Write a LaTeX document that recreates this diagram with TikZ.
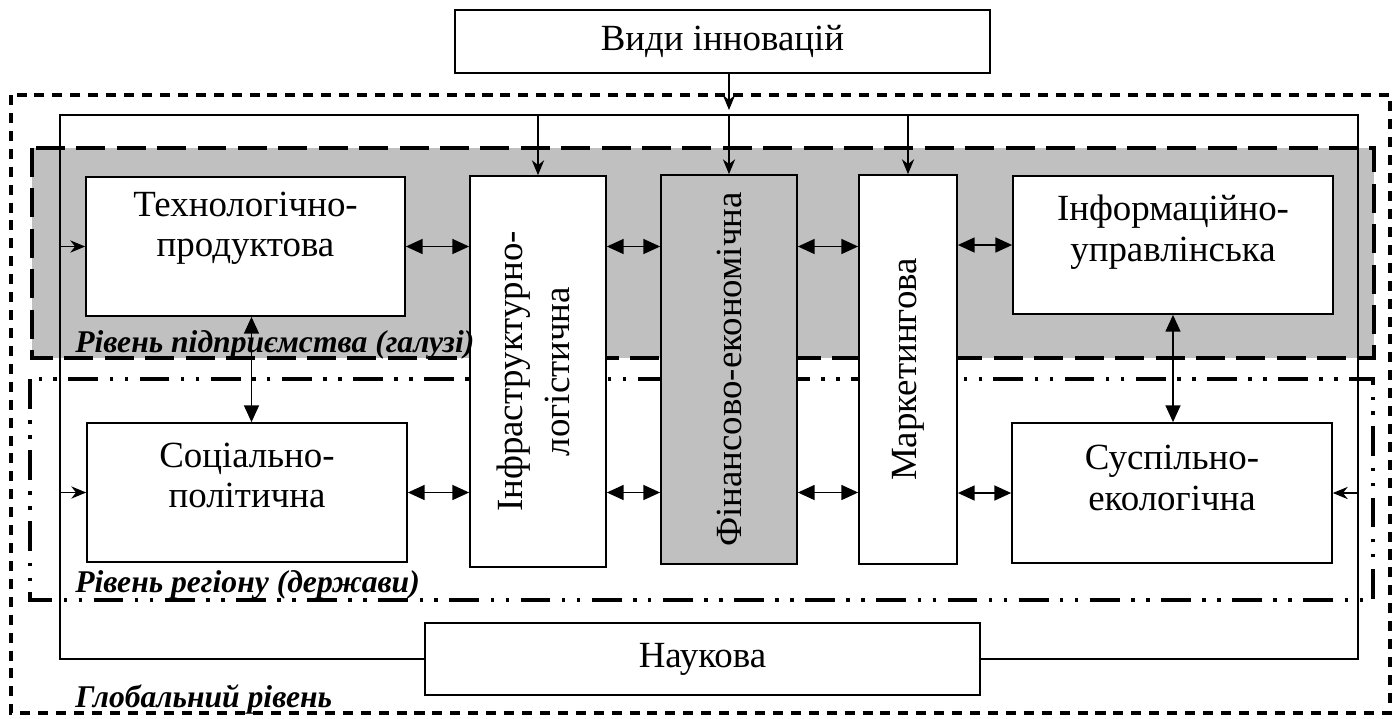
\documentclass[tikz,border=0pt]{standalone}
\usepackage{fontspec}
\setmainfont{Liberation Serif}
\usetikzlibrary{arrows.meta}
\definecolor{shade}{HTML}{C0C0C0}
\tikzset{
  box/.style={draw, line width=1pt, fill=white, inner sep=0pt},
  gbox/.style={box, fill=shade},
  txt/.style={font=\fontsize{21}{23}\selectfont, align=center, inner sep=0pt},
  lvl/.style={font=\fontsize{18}{20}\selectfont\bfseries\itshape, anchor=base west, inner sep=0pt},
  dbl/.style={{Triangle[length=9.5pt,width=8.5pt]}-{Triangle[length=9.5pt,width=8.5pt]}, line width=0.8pt},
  arr/.style={-{Stealth[length=8.5pt,width=7pt]}, line width=0.7pt},
  glob/.style={line width=2.1pt, dash pattern=on 5.7pt off 4.5pt},
  ent/.style={line width=2.3pt, dash pattern=on 16.5pt off 6.5pt, fill=shade},
  reg/.style={line width=2.3pt, dash pattern=on 17pt off 6.5pt on 2pt off 6.5pt on 2pt off 6.5pt},
  frame/.style={line width=0.7pt},
}

\begin{document}
\begin{tikzpicture}[x=0.02cm, y=-0.02cm]
  \useasboundingbox (0,0) rectangle (1400,718);

  % levels
  \draw[ent] (32,148) rectangle (1374,358);
  \draw[reg] (30,379) rectangle (1373,600);
  \draw[glob] (11,95) rectangle (1390,713);

  \coordinate (fTL) at (60,115);
  \coordinate (fTR) at (1358,115);

  % boxes
  \node[box, txt, minimum width=10.7cm, minimum height=1.26cm] (vidy) at (722.5,41.5) {Види інновацій};
  \node[box, txt, minimum width=11.1cm, minimum height=1.44cm] (nauk) at (702.5,659) {Наукова};

  \node[box, minimum width=6.38cm, minimum height=2.78cm] (tech) at (245.5,246.5) {};
  \node[box, minimum width=6.4cm, minimum height=2.78cm] (soc) at (247,492.5) {};
  \node[box, minimum width=6.4cm, minimum height=2.76cm] (info) at (1173,245) {};
  \node[box, minimum width=6.4cm, minimum height=2.8cm] (susp) at (1172,493) {};

  \node[txt] (techT) at ([yshift=0.36cm]tech.center) {Технологічно-\\продуктова};
  \node[txt] (socT) at ([yshift=0.34cm]soc.center) {Соціально-\\політична};
  \node[txt] (infoT) at ([yshift=0.26cm]info.center) {Інформаційно-\\управлінська};
  \node[txt] (suspT) at ([yshift=0.3cm]susp.center) {Суспільно-\\екологічна};

  \node[box, txt, minimum width=2.72cm, minimum height=7.82cm] (infra) at (538,371.5)
    {\rotatebox{90}{\begin{tabular}{@{}c@{}}Інфраструктурно-\\[4pt]логістична\end{tabular}}};
  \node[gbox, txt, minimum width=2.72cm, minimum height=7.78cm] (fin) at (729,369.5)
    {\rotatebox{90}{Фінансово-економічна}};
  \node[box, txt, minimum width=1.96cm, minimum height=7.78cm] (mark) at (908,369.5)
    {\rotatebox{90}{Маркетингова}};

  % outer frame through Наукова
  \draw[frame] (nauk.west) -| (fTL) -- (fTR) |- (nauk.east);

  % inputs
  \draw[arr] (vidy.south -| fin.north) -- ([yshift=0.1cm]fin.north |- fTL);
  \draw[arr] (infra.north |- fTL) -- (infra.north);
  \draw[arr] (fin.north |- fTL) -- (fin.north);
  \draw[arr] (mark.north |- fTL) -- (mark.north);
  \draw[arr] (tech.west -| fTL) -- (tech.west);
  \draw[arr] (soc.west -| fTL) -- (soc.west);
  \draw[arr] (susp.east -| fTR) -- (susp.east);

  % links
  \draw[dbl] (tech.east) -- (tech.east -| infra.west);
  \draw[dbl] (infra.east |- tech.east) -- (fin.west |- tech.east);
  \draw[dbl] (fin.east |- tech.east) -- (mark.west |- tech.east);
  \draw[dbl] (mark.east |- info.west) -- (info.west);
  \draw[dbl] (soc.east) -- (soc.east -| infra.west);
  \draw[dbl] (infra.east |- soc.east) -- (fin.west |- soc.east);
  \draw[dbl] (fin.east |- soc.east) -- (mark.west |- soc.east);
  \draw[dbl] (mark.east |- susp.west) -- (susp.west);
  \draw[dbl] ([xshift=0.12cm]tech.south) -- ([xshift=0.12cm]tech.south |- soc.north);
  \draw[dbl] (info.south) -- (info.south |- susp.north);

  % level labels
  \node[lvl] (entL) at (75,352) {Рівень підприємства (галузі)};
  \node[lvl] (regL) at (75,592) {Рівень регіону (держави)};
  \node[lvl] (globL) at (75,707) {Глобальний рівень};
\end{tikzpicture}
\end{document}
